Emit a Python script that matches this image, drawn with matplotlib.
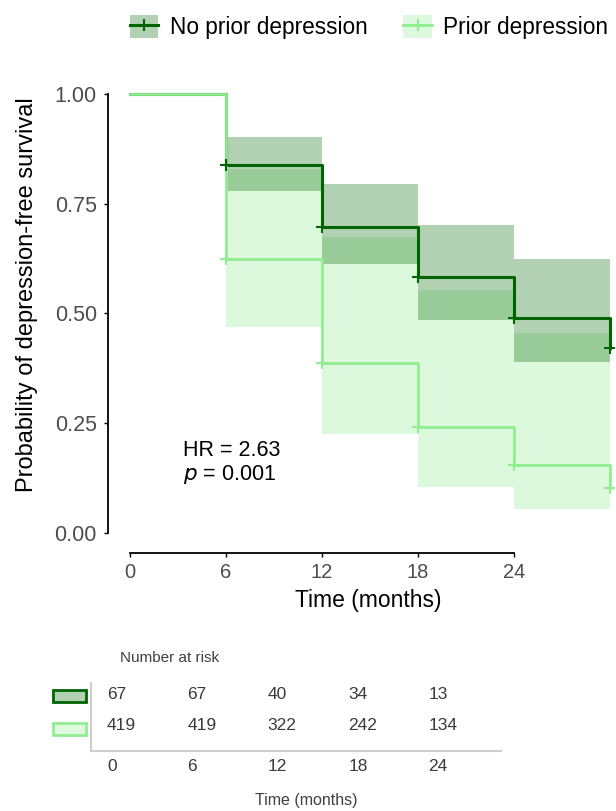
import matplotlib
matplotlib.use('Agg')
from matplotlib import pyplot as plt
from matplotlib.patches import Patch, Rectangle
from matplotlib.lines import Line2D
import numpy as np

plt.rcParams['font.family'] = ['Liberation Sans', 'DejaVu Sans']

# Kaplan-Meier estimates
times = [0, 6, 12, 18, 24, 30]
surv_no = [1.0, 0.838, 0.697, 0.582, 0.490, 0.422]
lo_no = [1.0, 0.779, 0.613, 0.485, 0.389]
hi_no = [1.0, 0.901, 0.795, 0.702, 0.623]
surv_pr = [1.0, 0.624, 0.387, 0.242, 0.155, 0.103]
lo_pr = [1.0, 0.469, 0.226, 0.105, 0.055]
hi_pr = [1.0, 0.830, 0.675, 0.553, 0.455]

labels = ['No prior depression', 'Prior depression']
risk_times = [0, 6, 12, 18, 24]
risk_no = [67, 67, 40, 34, 13]
risk_pr = [419, 419, 322, 242, 134]

dark = '#006400'
light = '#90ee90'
W, H = 616, 811


def main():
    fig = plt.figure(figsize=(W / 100, H / 100), dpi=100)

    # main survival panel
    ax = fig.add_axes([108 / W, (H - 553) / H, (614 - 108) / W, (553 - 80.8) / H])
    t = np.array(times)
    ax.fill_between(t, np.append(lo_pr, lo_pr[-1]), np.append(hi_pr, hi_pr[-1]),
                    step='post', color=light, alpha=0.3, lw=0)
    ax.fill_between(t, np.append(lo_no, lo_no[-1]), np.append(hi_no, hi_no[-1]),
                    step='post', color=dark, alpha=0.3, lw=0)
    ax.step(times, surv_no, where='post', color=dark, lw=2.2)
    ax.step(times, surv_pr, where='post', color=light, lw=2.0)
    ax.plot(times[1:], surv_no[1:], ls='none', marker='+', ms=9, mew=1.5, color=dark)
    ax.plot(times[1:], surv_pr[1:], ls='none', marker='+', ms=9, mew=1.5, color=light)

    ax.set_xlim(-1.375, 30.25)
    ax.set_ylim(-0.0456, 1.03)
    ax.set_xticks([0, 6, 12, 18, 24])
    ax.set_yticks([0, 0.25, 0.5, 0.75, 1.0])
    ax.set_yticklabels(['0.00', '0.25', '0.50', '0.75', '1.00'])
    for s in ['top', 'right']:
        ax.spines[s].set_visible(False)
    ax.spines['left'].set_bounds(0, 1)
    ax.spines['bottom'].set_bounds(0, 24)
    ax.spines['left'].set_linewidth(1.3)
    ax.spines['bottom'].set_linewidth(1.3)
    ax.tick_params(axis='y', labelsize=15.5, labelcolor='#4d4d4d', length=3, width=1, pad=5)
    ax.tick_params(axis='x', labelsize=14.5, labelcolor='#4d4d4d', length=3, width=1, pad=4)

    ax.text(3.3, 0.159, 'HR = 2.63\n$p$ = 0.001', fontsize=15.5, ha='left', va='center',
            linespacing=1.1)

    fig.text(27 / W, 1 - 295 / H, 'Probability of depression-free survival',
             rotation=90, ha='center', va='center', fontsize=17)
    fig.text(368 / W, 1 - 600 / H, 'Time (months)', ha='center', va='center', fontsize=16.5)

    # legend on top
    h_no = (Patch(facecolor=dark, alpha=0.3, lw=0),
            Line2D([], [], color=dark, lw=2.2, marker='+', ms=9, mew=1.5))
    h_pr = (Patch(facecolor=light, alpha=0.3, lw=0),
            Line2D([], [], color=light, lw=2.0, marker='+', ms=9, mew=1.5))
    fig.legend([h_no, h_pr], labels, loc='center', bbox_to_anchor=(369 / W, 1 - 27 / H),
               ncol=2, frameon=False, fontsize=16.3, handlelength=1.25, handleheight=1.2,
               handletextpad=0.5, columnspacing=1.6)

    # number at risk table
    rx = fig.add_axes([91 / W, (H - 751) / H, (501 - 91) / W, (751 - 683) / H])
    rx.set_xlim(-1.19, 29.4)
    rx.set_ylim(0, 1)
    for tt, a, b in zip(risk_times, risk_no, risk_pr):
        rx.text(tt, 0.838, str(a), ha='left', va='center', fontsize=12.5, color='#3a3a3a')
        rx.text(tt, 0.368, str(b), ha='left', va='center', fontsize=12.5, color='#3a3a3a')
    rx.set_xticks(risk_times)
    rx.set_xticklabels([str(v) for v in risk_times], ha='left')
    rx.set_yticks([])
    rx.tick_params(axis='x', length=0, labelsize=12.5, labelcolor='#3a3a3a', pad=6)
    for s in ['top', 'right']:
        rx.spines[s].set_visible(False)
    for s in ['left', 'bottom']:
        rx.spines[s].set_color('#d0cdcd')
        rx.spines[s].set_linewidth(1.5)
    rx.patch.set_alpha(0)

    fig.text(120 / W, 1 - 658 / H, 'Number at risk', ha='left', va='center',
             fontsize=11, color='#404040')
    fig.text(306 / W, 1 - 800 / H, 'Time (months)', ha='center', va='center',
             fontsize=11.5, color='#404040')

    fig.add_artist(Rectangle((53 / W, 1 - 702 / H), 33 / W, 12 / H, transform=fig.transFigure,
                             facecolor='#b2d0b2', edgecolor=dark, lw=2))
    fig.add_artist(Rectangle((53 / W, 1 - 735 / H), 33 / W, 12 / H, transform=fig.transFigure,
                             facecolor='#def9de', edgecolor=light, lw=2))

    fig.savefig('out.png', dpi=100)


if __name__ == '__main__':
    main()
